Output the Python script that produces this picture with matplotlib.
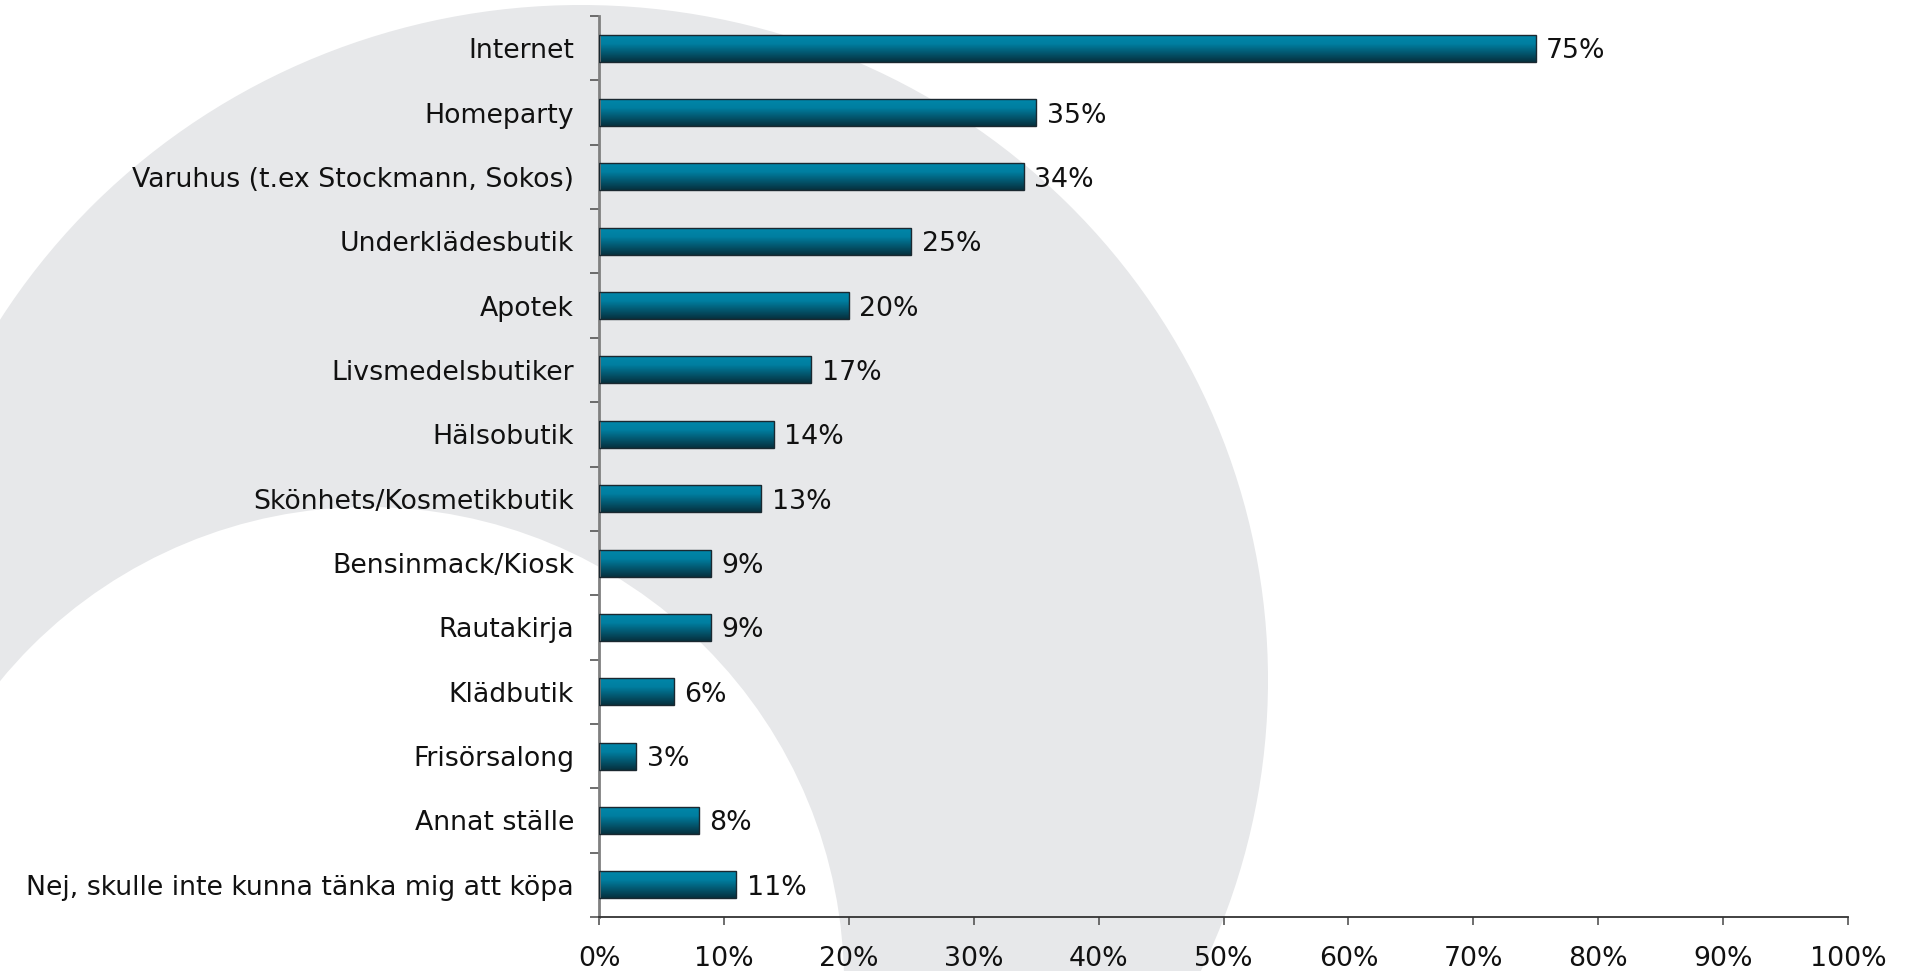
import numpy as np
import matplotlib
matplotlib.use("Agg")
import matplotlib.pyplot as plt
from matplotlib.patches import Ellipse, Circle
from matplotlib.colors import LinearSegmentedColormap

categories = [
    "Internet",
    "Homeparty",
    "Varuhus (t.ex Stockmann, Sokos)",
    "Underklädesbutik",
    "Apotek",
    "Livsmedelsbutiker",
    "Hälsobutik",
    "Skönhets/Kosmetikbutik",
    "Bensinmack/Kiosk",
    "Rautakirja",
    "Klädbutik",
    "Frisörsalong",
    "Annat ställe",
    "Nej, skulle inte kunna tänka mig att köpa",
]
values = [75, 35, 34, 25, 20, 17, 14, 13, 9, 9, 6, 3, 8, 11]
xticks = [0, 10, 20, 30, 40, 50, 60, 70, 80, 90, 100]
xticklabels = [f"{v}%" for v in xticks]

plt.rcParams['font.family'] = ['DejaVu Sans']
W, H = 1905, 971
FS = 19.3
fig = plt.figure(figsize=(W / 100, H / 100), dpi=100)
fig.patch.set_facecolor('white')

# decorative background arc
bg = fig.add_axes([0, 0, 1, 1], zorder=0)
bg.set_xlim(0, W)
bg.set_ylim(H, 0)
bg.axis('off')
bg.add_patch(Ellipse((581, 680), 2 * 687, 2 * 675, facecolor='#e7e8ea', edgecolor='none'))
bg.add_patch(Circle((368, 983), 476, facecolor='white', edgecolor='none'))

ax = fig.add_axes([599 / W, 1 - 917 / H, (1848 - 599) / W, (917 - 16) / H], zorder=1)
ax.patch.set_alpha(0)

n = len(categories)
ypos = np.arange(n)
bars = ax.barh(ypos, values, height=0.42, facecolor='none', edgecolor='#1a2830', linewidth=1.0, zorder=3)

cmap = LinearSegmentedColormap.from_list('bar', [(0.0, '#0088ab'), (0.35, '#007ea0'), (1.0, '#06303e')])
grad = np.linspace(0, 1, 256).reshape(-1, 1)
for b in bars:
    x0, y0 = b.get_x(), b.get_y()
    w, h = b.get_width(), b.get_height()
    im = ax.imshow(grad, cmap=cmap, aspect='auto', extent=(x0, x0 + w, y0 + h, y0),
                   zorder=2, interpolation='bilinear')
    im.set_clip_path(b)

ax.set_xlim(0, 100)
ax.set_ylim(n - 0.5, -0.5)

ax.set_xticks(xticks)
ax.set_xticklabels(xticklabels, fontsize=FS, color='#111111')
ax.tick_params(axis='x', length=6, width=1.2, color='#555555', pad=15)

ax.set_yticks(np.arange(-0.5, n, 1.0))
ax.set_yticklabels([])
ax.tick_params(axis='y', which='major', length=6.5, width=1.2, color='#555555')
ax.set_yticks(ypos, minor=True)
ax.set_yticklabels(categories, minor=True, fontsize=FS, color='#111111')
ax.tick_params(axis='y', which='minor', length=0, pad=18)

for s in ['top', 'right']:
    ax.spines[s].set_visible(False)
ax.spines['left'].set_color('#808080')
ax.spines['left'].set_linewidth(2)
ax.spines['bottom'].set_color('#333333')
ax.spines['bottom'].set_linewidth(1.3)

for y, v in zip(ypos, values):
    ax.annotate(f"{v}%", xy=(v, y), xytext=(7.5, 0), textcoords='offset points',
                va='center_baseline', ha='left', fontsize=FS, color='#111111')

fig.savefig('out.png', dpi=100, facecolor='white')
